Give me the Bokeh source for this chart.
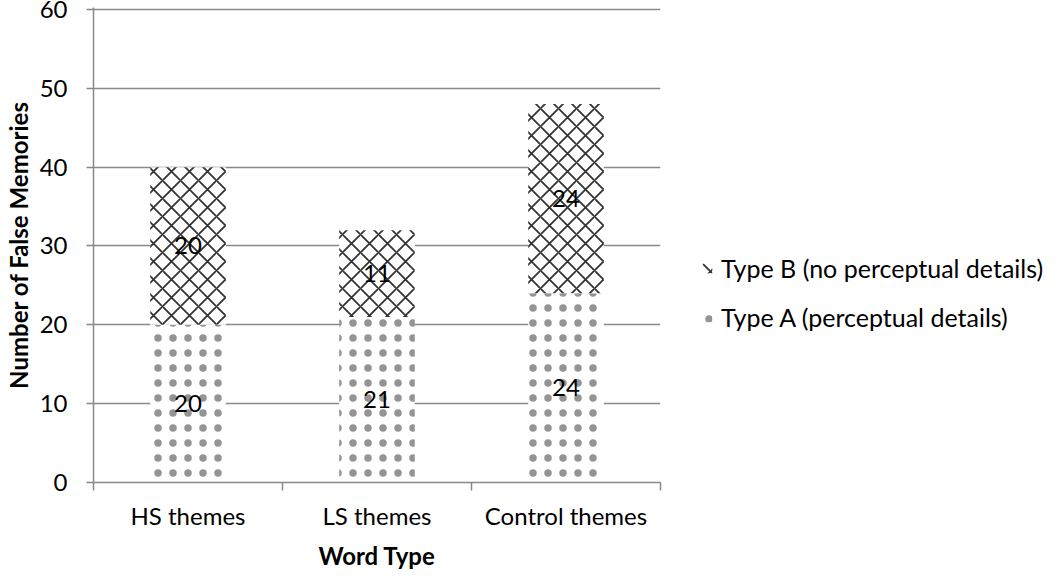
from bokeh.plotting import figure
from bokeh.models import ColumnDataSource, FixedTicker, Legend, LegendItem, LabelSet
from bokeh.core.properties import value
from bokeh.embed import file_html
from bokeh.resources import INLINE

categories = ["HS themes", "LS themes", "Control themes"]
type_a = [20, 21, 24]   # Type A (perceptual details)
type_b = [20, 11, 24]   # Type B (no perceptual details)
y_ticks = [0, 10, 20, 30, 40, 50, 60]

FONT = "Lato"
FS = "24px"
GRID = "#898989"

xs = [i + 0.5 for i in range(len(categories))]
top_b = [a + b for a, b in zip(type_a, type_b)]
src = ColumnDataSource(dict(
    x=xs, a=type_a, b=type_b, top_b=top_b, bottom_b=type_a,
    a_mid=[a / 2 for a in type_a],
    b_mid=[a + b / 2 for a, b in zip(type_a, type_b)],
    a_txt=[str(v) for v in type_a], b_txt=[str(v) for v in type_b],
))

p = figure(width=1044, height=566, frame_width=567, frame_height=475,
           x_range=(0, len(categories)), y_range=(0, 60.25),
           output_backend="svg", toolbar_location=None,
           min_border_left=89, min_border_right=388, min_border_top=7, min_border_bottom=84)
p.outline_line_color = None
p.background_fill_color = "white"

ra = p.vbar(x="x", width=0.4, bottom=0, top="a", source=src,
            fill_color="white", line_color=None,
            hatch_pattern="dot", hatch_color="#111111", hatch_alpha=0.45,
            hatch_scale=15, hatch_weight=1)
rb = p.vbar(x="x", width=0.4, bottom="bottom_b", top="top_b", source=src,
            fill_color="white", line_color=None,
            hatch_pattern="diagonal_cross", hatch_color="#333333", hatch_scale=18, hatch_weight=1.8)

for col, txt in (("a_mid", "a_txt"), ("b_mid", "b_txt")):
    p.add_layout(LabelSet(x="x", y=col, text=txt, source=src, text_align="center",
                          text_baseline="middle", text_font=value(FONT),
                          text_font_size=value(FS), text_color="black"))

# x axis
xa = p.xaxis[0]
xa.ticker = FixedTicker(ticks=xs, minor_ticks=list(range(len(categories) + 1)))
xa.major_label_overrides = {x: c for x, c in zip(xs, categories)}
xa.major_tick_out = 0
xa.major_tick_in = 0
xa.minor_tick_out = 8
xa.minor_tick_in = 0
xa.minor_tick_line_color = GRID
xa.minor_tick_line_width = 1.5
xa.axis_line_color = GRID
xa.axis_line_width = 1.5
xa.major_label_text_font = FONT
xa.major_label_text_font_size = FS
xa.major_label_text_color = "black"
xa.major_label_standoff = 10
xa.axis_label = "Word Type"
xa.axis_label_text_font = FONT
xa.axis_label_text_font_style = "bold"
xa.axis_label_text_font_size = FS
xa.axis_label_text_color = "black"
xa.axis_label_standoff = 8

ya = p.yaxis[0]
ya.ticker = FixedTicker(ticks=y_ticks)
ya.minor_tick_line_color = None
ya.major_tick_out = 7
ya.major_tick_in = 0
ya.major_tick_line_color = GRID
ya.major_tick_line_width = 1.5
ya.axis_line_color = GRID
ya.axis_line_width = 1.5
ya.major_label_text_font = FONT
ya.major_label_text_font_size = FS
ya.major_label_text_color = "black"
ya.major_label_standoff = 19
ya.axis_label = "Number of False Memories"
ya.axis_label_text_font = FONT
ya.axis_label_text_font_style = "bold"
ya.axis_label_text_font_size = FS
ya.axis_label_text_color = "black"
ya.axis_label_standoff = 4

p.xgrid.grid_line_color = None
p.ygrid.ticker = FixedTicker(ticks=y_ticks)
p.ygrid.grid_line_color = GRID
p.ygrid.grid_line_width = 1.5

legend = Legend(items=[
    LegendItem(label="Type B (no perceptual details)", renderers=[rb]),
    LegendItem(label="Type A (perceptual details)", renderers=[ra]),
], location=(41, 150))
legend.border_line_color = None
legend.background_fill_alpha = 0
legend.padding = 0
legend.margin = 0
legend.spacing = 19
legend.glyph_width = 12
legend.glyph_height = 12
legend.label_height = 20
legend.label_standoff = 8
legend.label_text_font = FONT
legend.label_text_font_size = "25px"
legend.label_text_color = "black"
p.add_layout(legend, "right")

open("out.html", "w").write(file_html(p, INLINE))
